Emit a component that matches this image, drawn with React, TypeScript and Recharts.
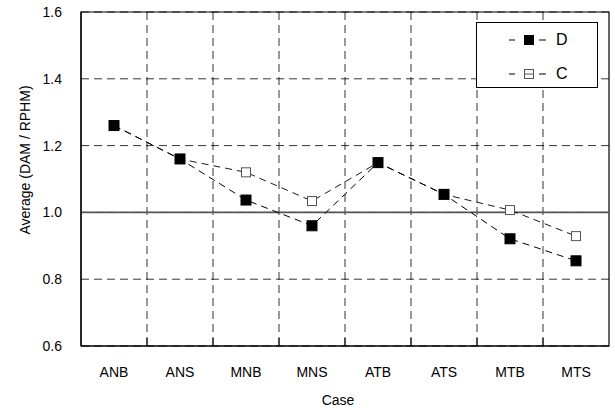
import {
  CartesianGrid,
  Line,
  LineChart,
  ReferenceArea,
  ReferenceLine,
  XAxis,
  YAxis,
} from "recharts";

const CASES = ["ANB", "ANS", "MNB", "MNS", "ATB", "ATS", "MTB", "MTS"];
const D_VALUES = [1.26, 1.16, 1.037, 0.96, 1.149, 1.054, 0.921, 0.855];
const C_VALUES = [1.26, 1.16, 1.12, 1.034, 1.149, 1.054, 1.007, 0.929];
const Y_TICKS = [0.6, 0.8, 1.0, 1.2, 1.4, 1.6];
const X_TICKS = [0, 0.5, 1, 1.5, 2, 2.5, 3, 3.5, 4, 4.5, 5, 5.5, 6, 6.5, 7, 7.5, 8];

const FONT = '"Liberation Sans", Arial, sans-serif';

type Row = { pos: number; label: string; D: number; C: number };

const rows: Row[] = CASES.map((label, i) => ({
  pos: i + 0.5,
  label,
  D: D_VALUES[i],
  C: C_VALUES[i],
}));

const XTick = (props: any) => {
  const { x, y, payload } = props;
  const v = Number(payload.value);
  if (Number.isInteger(v)) {
    if (v === 0 || v === 8) return <g />;
    return <line x1={x} x2={x} y1={y} y2={y - 8} stroke="#000" strokeWidth={1} />;
  }
  return (
    <text x={x} y={y + 31} textAnchor="middle" fontSize={14} fontFamily={FONT} fill="#000">
      {CASES[Math.floor(v)]}
    </text>
  );
};

const YTitle = (props: any) => {
  const vb = props.viewBox ?? { x: 0, y: 12, width: 81, height: 334 };
  const cx = 25;
  const cy = vb.y + vb.height / 2 - 19;
  return (
    <text
      x={cx}
      y={cy}
      transform={`rotate(-90, ${cx}, ${cy})`}
      textAnchor="middle"
      dominantBaseline="central"
      fontSize={14}
      fontFamily={FONT}
      fill="#000"
    >
      Average (DAM / RPHM)
    </text>
  );
};

const FilledSquare = (props: any) => {
  const { cx, cy } = props;
  if (cx == null || cy == null) return <g />;
  return <rect x={cx - 5} y={cy - 5} width={10} height={10} fill="#000" stroke="#000" />;
};

const OpenSquare = (props: any) => {
  const { cx, cy } = props;
  if (cx == null || cy == null) return <g />;
  return <rect x={cx - 4.5} y={cy - 4.5} width={9} height={9} fill="#fff" stroke="#555" strokeWidth={1} />;
};

const LegendBox = () => (
  <div
    style={{
      position: "absolute",
      left: 476,
      top: 22,
      width: 122,
      height: 66,
      boxSizing: "border-box",
      border: "1px solid #000",
      background: "#fff",
      fontFamily: FONT,
    }}
  >
    {[
      { name: "D", filled: true, top: 5 },
      { name: "C", filled: false, top: 39 },
    ].map((item) => (
      <div key={item.name} style={{ position: "absolute", left: 30, top: item.top, height: 24, display: "flex", alignItems: "center" }}>
        <svg width={42} height={24}>
          <line x1={2} x2={8} y1={12} y2={12} stroke="#000" />
          <line x1={32} x2={39} y1={12} y2={12} stroke="#000" />
          {item.filled ? (
            <rect x={17} y={7} width={10} height={10} fill="#000" />
          ) : (
            <>
              <rect x={17.5} y={7.5} width={9} height={9} fill="#fff" stroke="#555" />
              <line x1={17} x2={27} y1={12} y2={12} stroke="#555" />
            </>
          )}
        </svg>
        <span style={{ fontSize: 16, marginLeft: 7, color: "#000" }}>{item.name}</span>
      </div>
    ))}
  </div>
);

export default function App() {
  return (
    <div style={{ position: "absolute", left: 0, top: 0, width: 615, height: 410, background: "#fff" }}>
      <LineChart width={615} height={410} data={rows} margin={{ top: 12, right: 6, bottom: 0, left: 0 }}>
        <CartesianGrid
          stroke="#000"
          strokeWidth={0.8}
          strokeDasharray="8 5"
          horizontalValues={Y_TICKS}
          verticalCoordinatesGenerator={({ offset }: any) =>
            [1, 2, 3, 4, 5, 6, 7].map((i) => offset.left + (offset.width * i) / 8)
          }
        />
        <ReferenceLine y={1.0} stroke="#555" strokeWidth={1.6} />
        <ReferenceArea x1={0} x2={8} y1={0.6} y2={1.6} fill="none" stroke="#000" strokeWidth={1.2} />
        <XAxis
          type="number"
          dataKey="pos"
          domain={[0, 8]}
          ticks={X_TICKS}
          interval={0}
          tick={XTick}
          tickLine={false}
          tickSize={0}
          tickMargin={0}
          height={64}
          axisLine={{ stroke: "#000", strokeWidth: 1.2 }}
          label={{ value: "Case", position: "insideBottom", offset: 5, dx: -7, style: { fontSize: 14, fontFamily: FONT, fill: "#000" } }}
        />
        <YAxis
          type="number"
          domain={[0.6, 1.6]}
          ticks={Y_TICKS}
          interval={0}
          width={81}
          tickLine={false}
          tickSize={0}
          tickMargin={19}
          tickFormatter={(v: number) => v.toFixed(1)}
          tick={{ fontSize: 14, fontFamily: FONT, fill: "#000" }}
          axisLine={{ stroke: "#000", strokeWidth: 1.2 }}
          label={<YTitle />}
        />
        <Line
          dataKey="C"
          stroke="#000"
          strokeWidth={0.9}
          strokeDasharray="7 5"
          dot={<OpenSquare />}
          activeDot={false}
          isAnimationActive={false}
        />
        <Line
          dataKey="D"
          stroke="#000"
          strokeWidth={1}
          strokeDasharray="7 5"
          dot={<FilledSquare />}
          activeDot={false}
          isAnimationActive={false}
        />
      </LineChart>
      <LegendBox />
    </div>
  );
}
